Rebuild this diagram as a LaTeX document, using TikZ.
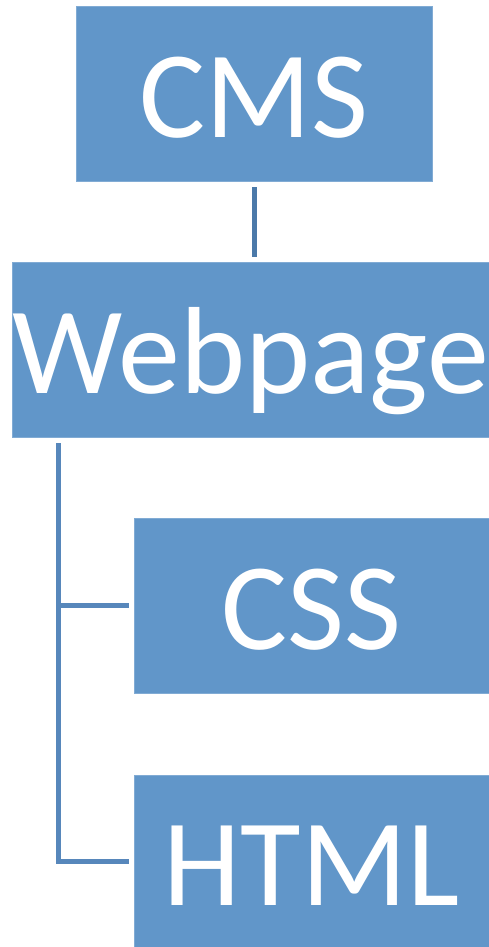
\documentclass[tikz,border=0pt]{standalone}
\usepackage{fontspec}
\setmainfont{Carlito}
\usepackage{tikz}

\definecolor{boxblue}{HTML}{6196C9}
\definecolor{linkblue}{HTML}{5787BB}
\definecolor{darklink}{HTML}{4B79A9}

\tikzset{
  box/.style={fill=boxblue, draw=boxblue!80!white, line width=0.6pt, text=white, inner sep=0pt,
    minimum height=175pt, text height=100pt, text depth=12pt,
    font=\fontsize{124}{130}\selectfont},
  link/.style={linkblue, line width=5pt, shorten <=6pt, shorten >=5pt}
}

\begin{document}
\begin{tikzpicture}[x=1pt,y=-1pt]
\useasboundingbox (0,0) rectangle (489,947);
\node[box, minimum width=356pt] (cms) at (254,93.5) {CMS};
\node[box, minimum width=477pt] (web) at (250.5,349.5) {Webpage};
\node[box, minimum width=355pt] (css) at (311.5,605.5) {CSS};
\node[box, minimum width=355pt, minimum height=172pt] (html) at (311.5,861) {HTML};
\coordinate (spine) at (58,437);
\draw[link, darklink] (cms.south) -- (cms.south |- web.north);
\draw[link] (spine) |- (html.west);
\draw[link, shorten <=0pt] (spine |- css.west) -- (css.west);
\end{tikzpicture}
\end{document}
